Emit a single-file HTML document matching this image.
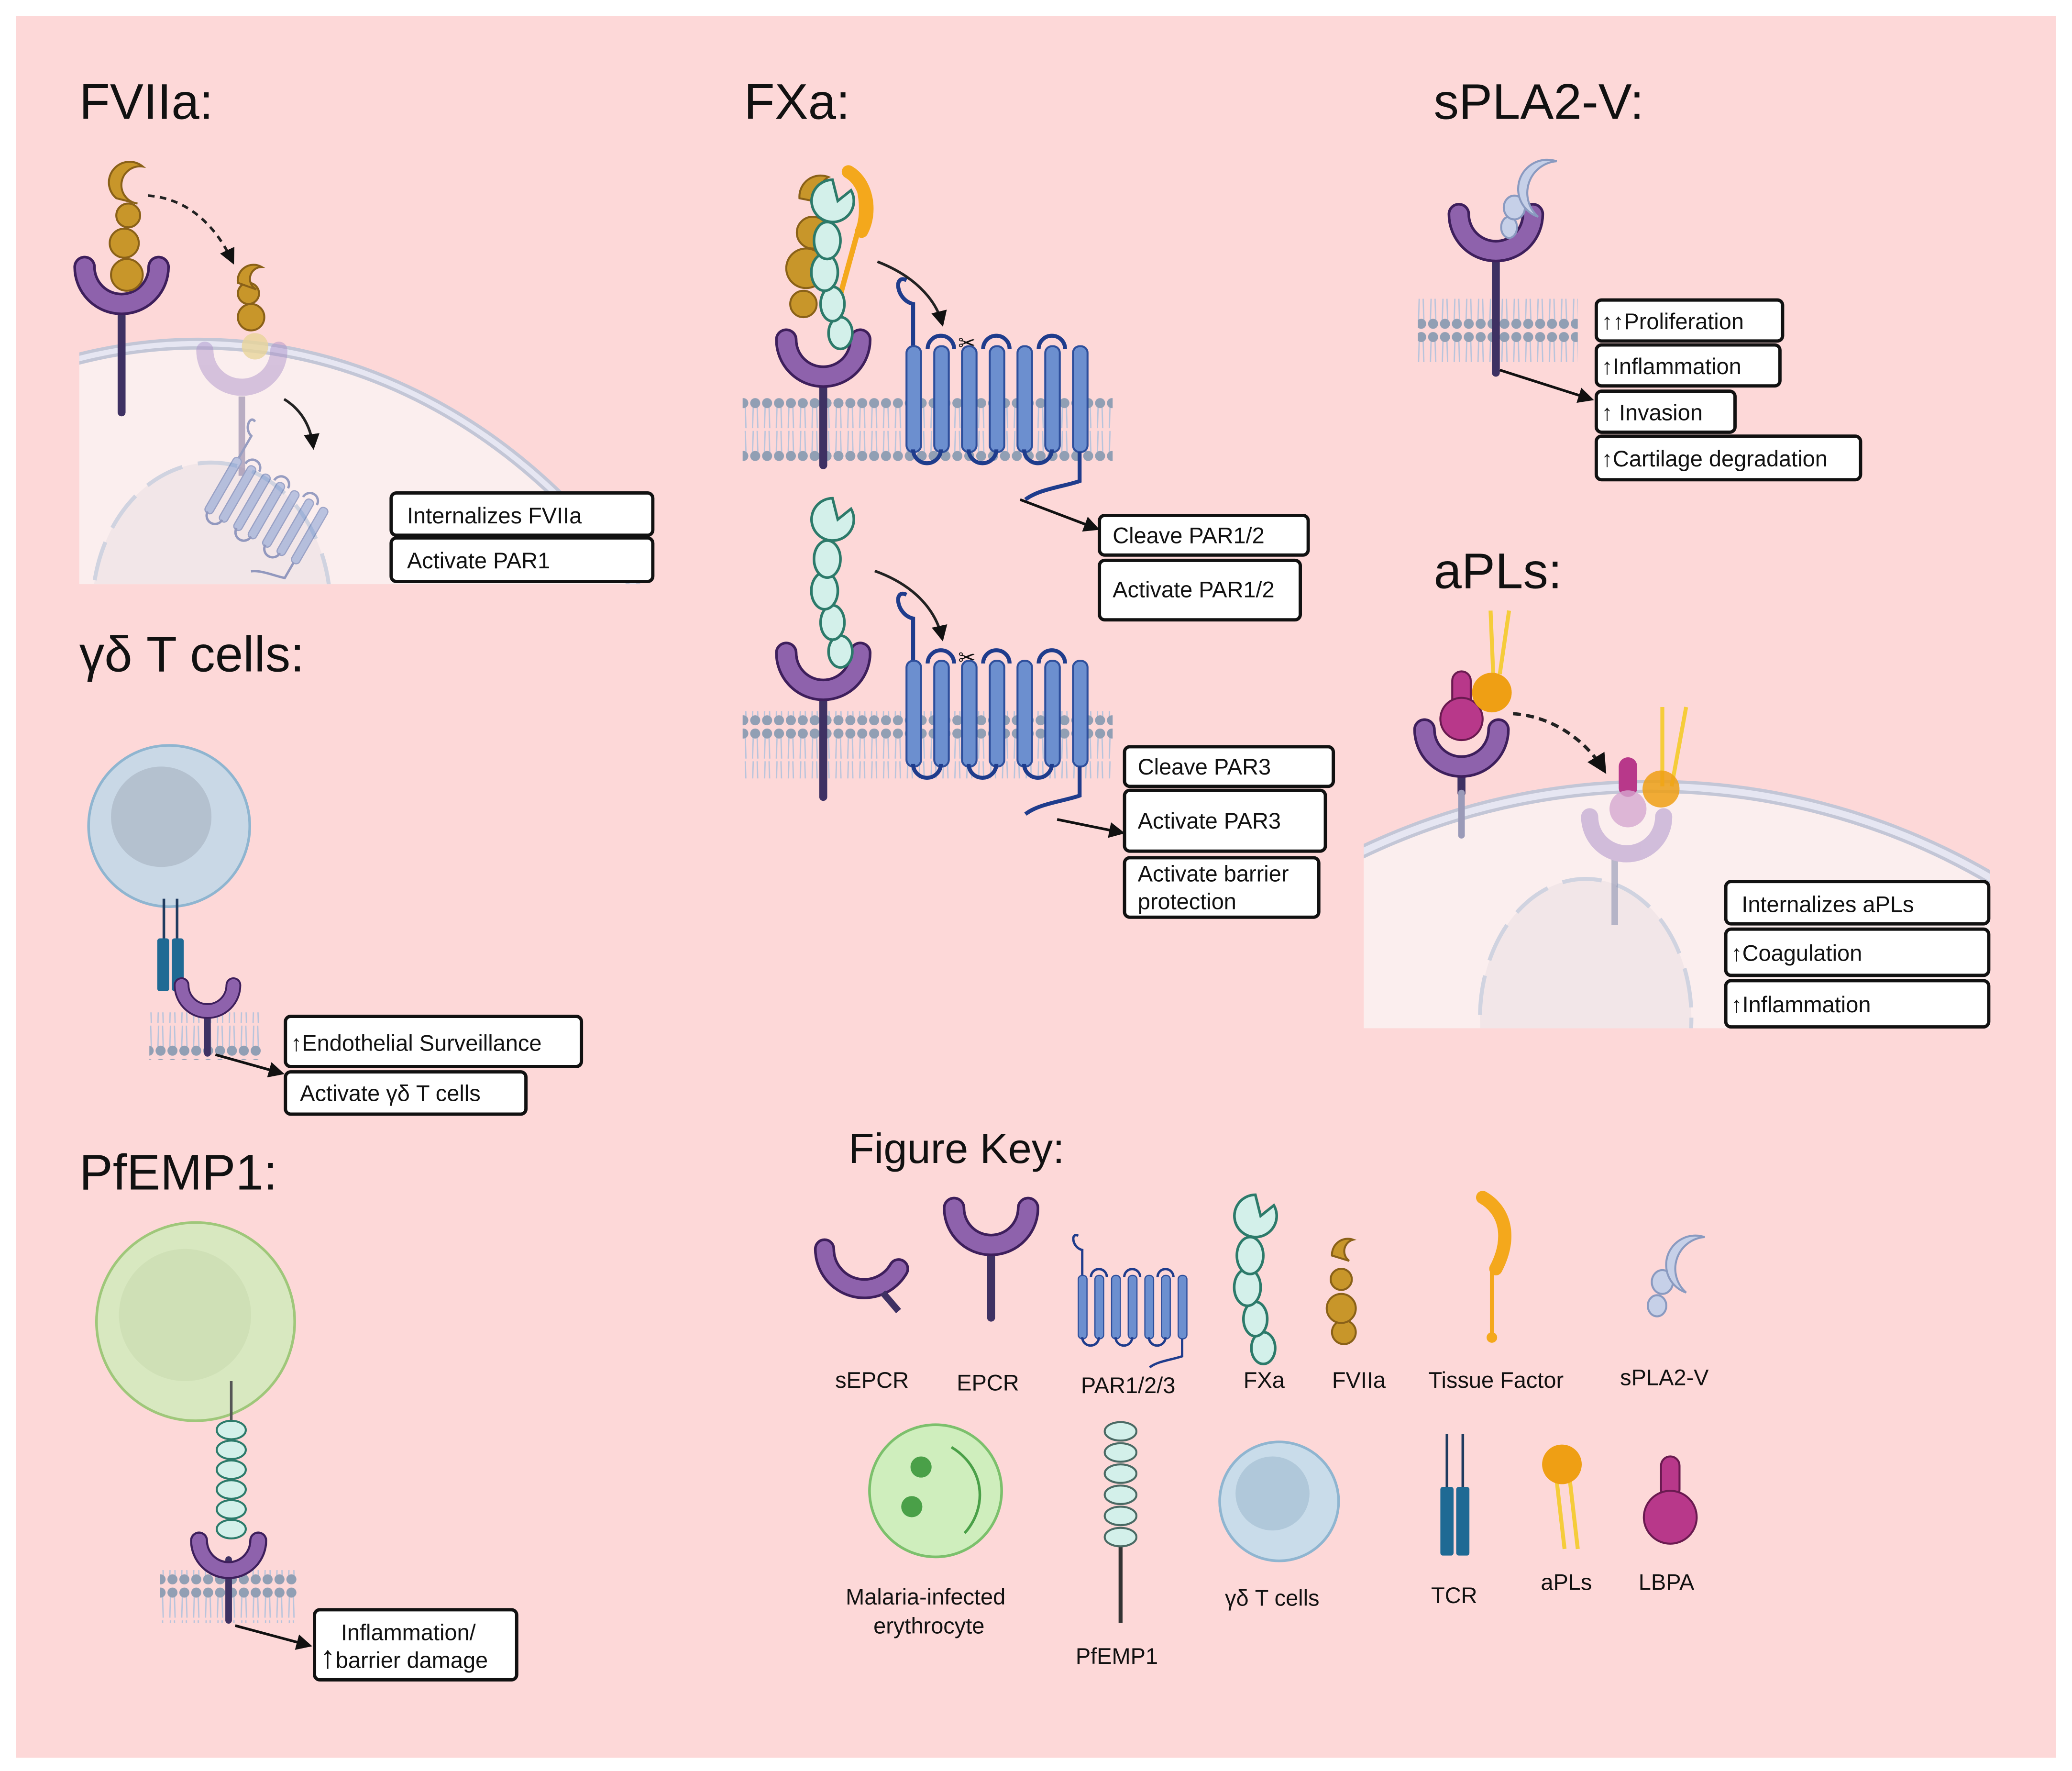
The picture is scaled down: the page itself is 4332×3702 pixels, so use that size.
<!DOCTYPE html>
<html><head><meta charset="utf-8"><style>
html,body{margin:0;padding:0;background:#fff;width:4332px;height:3702px;overflow:hidden}
svg{display:block}
text{font-family:"Liberation Sans",sans-serif;fill:#111}
</style></head><body>
<svg width="4332" height="3702" viewBox="0 0 1568 1340" xmlns="http://www.w3.org/2000/svg">
<defs>
<pattern id="mem" x="0" y="0" width="9" height="50" patternUnits="userSpaceOnUse">
<line x1="3" y1="8" x2="2.5" y2="24" stroke="#b8c4dc" stroke-width="1"/>
<line x1="6" y1="8" x2="6.5" y2="24" stroke="#b8c4dc" stroke-width="1"/>
<line x1="3" y1="26" x2="2.5" y2="42" stroke="#b8c4dc" stroke-width="1"/>
<line x1="6" y1="26" x2="6.5" y2="42" stroke="#b8c4dc" stroke-width="1"/>
<circle cx="4.5" cy="5" r="3.8" fill="#919fb4"/>
<circle cx="4.5" cy="45" r="3.8" fill="#919fb4"/>
</pattern>
<g id="epcr">
<path d="M-28,-38 A28,28 0 0 0 28,-38" fill="none" stroke="#3e1f5c" stroke-width="17" stroke-linecap="round"/>
<path d="M-28,-38 A28,28 0 0 0 28,-38" fill="none" stroke="#8e62ac" stroke-width="13" stroke-linecap="round"/>
</g>
<g id="par">
<path d="M0,-50 C-10,-55 -8,-35 5,-32 L5,0" fill="none" stroke="#1f3c8c" stroke-width="3"/>
<g fill="#6c8fcf" stroke="#2e4f9c" stroke-width="1.5">
<rect x="0" y="0" width="11" height="80" rx="5"/><rect x="21" y="0" width="11" height="80" rx="5"/>
<rect x="42" y="0" width="11" height="80" rx="5"/><rect x="63" y="0" width="11" height="80" rx="5"/>
<rect x="84" y="0" width="11" height="80" rx="5"/><rect x="105" y="0" width="11" height="80" rx="5"/>
<rect x="126" y="0" width="11" height="80" rx="5"/>
</g>
<g fill="none" stroke="#1f3c8c" stroke-width="3">
<path d="M16,2 a10,10 0 0 1 20,0 M58,2 a10,10 0 0 1 20,0 M100,2 a10,10 0 0 1 20,0"/>
<path d="M5,78 a10,10 0 0 0 21,0 M47,78 a10,10 0 0 0 21,0 M89,78 a10,10 0 0 0 21,0"/>
<path d="M131,80 L131,102 C120,106 100,108 90,116"/>
</g>
</g>
<g id="fxa">
<g fill="#d3f0ea" stroke="#2c7a6a" stroke-width="2">
<ellipse cx="6" cy="88" rx="9" ry="12"/><ellipse cx="0" cy="66" rx="9" ry="13"/>
<ellipse cx="-6" cy="42" rx="10" ry="14"/><ellipse cx="-4" cy="18" rx="10" ry="14"/>
<path d="M0,-28 a16,16 0 1 0 14,8 L4,-12 Z"/>
</g>
</g>
<marker id="ah" viewBox="0 0 10 10" refX="8" refY="5" markerWidth="6" markerHeight="6" orient="auto"><path d="M0,0 L10,5 L0,10 Z" fill="#111"/></marker>
</defs>

<rect x="0" y="0" width="1568" height="1340" fill="#fff"/>
<rect x="12" y="12" width="1544" height="1318" fill="#fdd8d8"/>

<!-- FVIIa -->
<text x="60" y="90" font-size="38">FVIIa:</text>
<clipPath id="c1"><rect x="60" y="200" width="440" height="242"/></clipPath>
<g clip-path="url(#c1)">
<ellipse cx="150" cy="770" rx="430" ry="510" fill="#fbeeee" stroke="#c3c6d6" stroke-width="9"/>
<ellipse cx="150" cy="770" rx="430" ry="510" fill="none" stroke="#e6e6f2" stroke-width="4"/>
<ellipse cx="160" cy="460" rx="90" ry="110" fill="#f2e6e8" stroke="#d0d3e0" stroke-width="3" stroke-dasharray="30,12"/>
</g>
<line x1="92" y1="228" x2="92" y2="312" stroke="#3e3163" stroke-width="6" stroke-linecap="round"/>
<use href="#epcr" x="92" y="240"/>
<g fill="#c8962a" stroke="#8a6118" stroke-width="1.5">
<circle cx="96" cy="208" r="12"/><circle cx="94" cy="184" r="11"/><circle cx="97" cy="163" r="9"/>
<path d="M88,150 a14,14 0 0 1 20,-24 a10,10 0 0 0 -4,28 Z"/>
</g>
<path d="M112,148 C140,150 162,168 176,198" fill="none" stroke="#222" stroke-width="2" stroke-dasharray="5,4" marker-end="url(#ah)"/>
<g opacity="0.45">
<line x1="183" y1="300" x2="183" y2="360" stroke="#6b5f8f" stroke-width="5"/>
<path d="M155,265 A28,28 0 0 0 211,265" fill="none" stroke="#a88cc8" stroke-width="13" stroke-linecap="round"/>
<g transform="translate(178,345) rotate(30) scale(0.6)"><use href="#par"/></g>
</g>
<g fill="#c8962a" stroke="#8a6118" stroke-width="1.5">
<circle cx="190" cy="240" r="10"/><circle cx="188" cy="222" r="8"/>
<path d="M180,214 a12,12 0 0 1 18,-12 a9,9 0 0 0 -4,17 Z"/>
</g>
<circle cx="193" cy="262" r="10" fill="#e8d59a" opacity="0.8"/>
<path d="M215,302 C228,310 235,322 237,338" fill="none" stroke="#222" stroke-width="2" marker-end="url(#ah)"/>
<g stroke="#111" stroke-width="2.5" fill="#fff">
<rect x="296" y="373" width="198" height="32" rx="4"/><rect x="296" y="407" width="198" height="33" rx="4"/>
</g>
<text x="308" y="396" font-size="17">Internalizes FVIIa</text>
<text x="308" y="430" font-size="17">Activate PAR1</text>

<!-- FXa -->
<text x="563" y="90" font-size="38">FXa:</text>
<rect x="562" y="300" width="280" height="51" fill="url(#mem)"/>
<use href="#par" x="686" y="262"/>
<line x1="623" y1="283" x2="623" y2="352" stroke="#3e3163" stroke-width="6" stroke-linecap="round"/>
<use href="#epcr" x="623" y="295"/>
<path d="M644,128 C652,140 654,160 650,172 L628,252" fill="none" stroke="#f4a81c" stroke-width="4"/>
<path d="M642,130 C656,138 660,160 652,175" fill="none" stroke="#f4a81c" stroke-width="10" stroke-linecap="round"/>
<g fill="#c8962a" stroke="#8a6118" stroke-width="1.5">
<circle cx="608" cy="230" r="10"/><circle cx="610" cy="203" r="15"/><circle cx="615" cy="176" r="12"/>
<path d="M605,150 a16,16 0 0 1 22,-16 a12,12 0 0 0 -2,20 Z"/>
</g>
<use href="#fxa" x="630" y="164"/>
<path d="M664,198 C690,208 708,225 713,245" fill="none" stroke="#222" stroke-width="2" marker-end="url(#ah)"/>
<text x="725" y="265" font-size="16" fill="#777">✂</text>
<path d="M772,378 L830,400" stroke="#111" stroke-width="2" marker-end="url(#ah)"/>
<g stroke="#111" stroke-width="2.5" fill="#fff">
<rect x="832" y="390" width="158" height="30" rx="4"/><rect x="832" y="424" width="152" height="45" rx="4"/>
</g>
<text x="842" y="411" font-size="17">Cleave PAR1/2</text>
<text x="842" y="452" font-size="17">Activate PAR1/2</text>

<rect x="562" y="538" width="280" height="51" fill="url(#mem)"/>
<use href="#par" x="686" y="500"/>
<line x1="623" y1="520" x2="623" y2="603" stroke="#3e3163" stroke-width="6" stroke-linecap="round"/>
<use href="#epcr" x="623" y="532"/>
<use href="#fxa" x="630" y="405"/>
<path d="M662,432 C690,442 708,460 713,483" fill="none" stroke="#222" stroke-width="2" marker-end="url(#ah)"/>
<text x="725" y="503" font-size="16" fill="#777">✂</text>
<path d="M800,620 L849,630" stroke="#111" stroke-width="2" marker-end="url(#ah)"/>
<g stroke="#111" stroke-width="2.5" fill="#fff">
<rect x="851" y="565" width="158" height="30" rx="4"/><rect x="851" y="598" width="152" height="46" rx="4"/>
<rect x="851" y="649" width="147" height="45" rx="4"/>
</g>
<text x="861" y="586" font-size="17">Cleave PAR3</text>
<text x="861" y="627" font-size="17">Activate PAR3</text>
<text x="861" y="667" font-size="17">Activate barrier</text>
<text x="861" y="688" font-size="17">protection</text>

<!-- sPLA2-V -->
<text x="1085" y="90" font-size="38">sPLA2-V:</text>
<rect x="1073" y="226" width="121" height="50" fill="url(#mem)"/>
<line x1="1132" y1="188" x2="1132" y2="282" stroke="#3e3163" stroke-width="6" stroke-linecap="round"/>
<use href="#epcr" x="1132" y="200"/>
<g fill="#c6d0e8" stroke="#8a9ac0" stroke-width="1.5">
<ellipse cx="1142" cy="172" rx="6" ry="8"/><ellipse cx="1146" cy="157" rx="8" ry="9"/>
<path d="M1178,122 a24,24 0 0 0 -14,42 a18,18 0 0 1 14,-42 Z"/>
</g>
<path d="M1135,280 L1204,302" stroke="#111" stroke-width="2" marker-end="url(#ah)"/>
<g stroke="#111" stroke-width="2.5" fill="#fff">
<rect x="1208" y="227" width="141" height="31" rx="4"/><rect x="1208" y="261" width="139" height="31" rx="4"/>
<rect x="1208" y="296" width="105" height="31" rx="4"/><rect x="1208" y="330" width="200" height="33" rx="4"/>
</g>
<text x="1212" y="249" font-size="17">↑↑Proliferation</text>
<text x="1212" y="283" font-size="17">↑Inflammation</text>
<text x="1212" y="318" font-size="17">↑ Invasion</text>
<text x="1212" y="353" font-size="17">↑Cartilage degradation</text>

<!-- aPLs -->
<text x="1085" y="445" font-size="38">aPLs:</text>
<clipPath id="c2"><rect x="1032" y="560" width="474" height="218"/></clipPath>
<g clip-path="url(#c2)">
<ellipse cx="1250" cy="1085" rx="500" ry="490" fill="#fbeeee" stroke="#c3c6d6" stroke-width="10"/>
<ellipse cx="1250" cy="1085" rx="500" ry="490" fill="none" stroke="#e6e6f2" stroke-width="5"/>
<ellipse cx="1200" cy="770" rx="80" ry="105" fill="#f2e6e8" stroke="#d0d3e0" stroke-width="3" stroke-dasharray="30,12"/>
</g>
<line x1="1106" y1="575" x2="1106" y2="600" stroke="#3e3163" stroke-width="6" stroke-linecap="round"/>
<line x1="1106" y1="600" x2="1106" y2="632" stroke="#9a9ab8" stroke-width="5" stroke-linecap="round"/>
<use href="#epcr" x="1106" y="590"/>
<path d="M1128,462 L1130,510 M1142,462 L1135,510" stroke="#f5cc3a" stroke-width="3" fill="none"/>
<g fill="#b8388a" stroke="#6a1a50" stroke-width="1.5">
<rect x="1099" y="508" width="14" height="32" rx="7"/><circle cx="1106" cy="544" r="16"/>
</g>
<circle cx="1129" cy="524" r="15" fill="#ef9f14"/>
<path d="M1145,540 C1175,542 1200,560 1214,583" fill="none" stroke="#222" stroke-width="2.5" stroke-dasharray="6,4" marker-end="url(#ah)"/>
<g opacity="0.5">
<line x1="1222" y1="640" x2="1222" y2="700" stroke="#7a84a8" stroke-width="5"/>
<path d="M1203,618 A28,28 0 0 0 1259,618" fill="none" stroke="#a88cc8" stroke-width="13" stroke-linecap="round"/>
</g>
<rect x="1225" y="573" width="14" height="30" rx="7" fill="#b8388a"/>
<circle cx="1232" cy="612" r="14" fill="#d6a8d0" opacity="0.8"/>
<path d="M1258,535 L1258,595 M1276,535 L1265,595" stroke="#f5cc3a" stroke-width="3" fill="none"/>
<circle cx="1257" cy="597" r="14" fill="#ef9f14" opacity="0.85"/>
<g stroke="#111" stroke-width="2.5" fill="#fff">
<rect x="1306" y="667" width="199" height="32" rx="4"/><rect x="1306" y="703" width="199" height="35" rx="4"/>
<rect x="1306" y="742" width="199" height="35" rx="4"/>
</g>
<text x="1318" y="690" font-size="17">Internalizes aPLs</text>
<text x="1310" y="727" font-size="17">↑Coagulation</text>
<text x="1310" y="766" font-size="17">↑Inflammation</text>

<!-- gd T cells -->
<text x="60" y="508" font-size="38">γδ T cells:</text>
<circle cx="128" cy="625" r="61" fill="#c9d8e6" stroke="#8fb5d0" stroke-width="2"/>
<circle cx="122" cy="618" r="38" fill="#b4c1cf"/>
<rect x="113" y="766" width="85" height="36" fill="url(#mem)"/>
<path d="M124,680 V745 M134,680 V745" stroke="#1f3b5f" stroke-width="2"/>
<rect x="119" y="710" width="9" height="40" fill="#1f6a94" rx="2"/><rect x="130" y="710" width="9" height="40" fill="#1f6a94" rx="2"/>
<line x1="157" y1="762" x2="157" y2="797" stroke="#3e3163" stroke-width="5" stroke-linecap="round"/>
<g transform="translate(157,772) scale(0.7)"><use href="#epcr"/></g>
<path d="M163,798 L213,812" stroke="#111" stroke-width="2" marker-end="url(#ah)"/>
<g stroke="#111" stroke-width="2.5" fill="#fff">
<rect x="216" y="769" width="224" height="38" rx="4"/><rect x="216" y="811" width="182" height="32" rx="4"/>
</g>
<text x="220" y="795" font-size="17">↑Endothelial Surveillance</text>
<text x="227" y="833" font-size="17">Activate γδ T cells</text>

<!-- PfEMP1 -->
<text x="60" y="900" font-size="38">PfEMP1:</text>
<circle cx="148" cy="1000" r="75" fill="#d8e8c0" stroke="#9fc77a" stroke-width="2"/>
<circle cx="140" cy="995" r="50" fill="#cfe0b6"/>
<rect x="121" y="1188" width="104" height="40" fill="url(#mem)"/>
<line x1="175" y1="1045" x2="175" y2="1080" stroke="#555" stroke-width="2"/>
<line x1="173" y1="1180" x2="173" y2="1226" stroke="#3e3163" stroke-width="5" stroke-linecap="round"/>
<g transform="translate(173,1196) scale(0.8)"><use href="#epcr"/></g>
<g fill="#d3f0ea" stroke="#2c7a6a" stroke-width="1.5">
<ellipse cx="175" cy="1082" rx="11" ry="7"/><ellipse cx="175" cy="1097" rx="11" ry="7"/><ellipse cx="175" cy="1112" rx="11" ry="7"/>
<ellipse cx="175" cy="1127" rx="11" ry="7"/><ellipse cx="175" cy="1142" rx="11" ry="7"/><ellipse cx="175" cy="1157" rx="11" ry="7"/>
</g>
<path d="M178,1230 L234,1245" stroke="#111" stroke-width="2" marker-end="url(#ah)"/>
<rect x="238" y="1218" width="153" height="53" rx="4" stroke="#111" stroke-width="2.5" fill="#fff"/>
<text x="242" y="1262" font-size="24">↑</text>
<text x="258" y="1241" font-size="17">Inflammation/</text>
<text x="254" y="1262" font-size="17">barrier damage</text>

<!-- Figure key -->
<text x="642" y="880" font-size="32">Figure Key:</text>
<path d="M624,945 A30,30 0 0 0 680,960" fill="none" stroke="#3e1f5c" stroke-width="16" stroke-linecap="round"/>
<path d="M624,945 A30,30 0 0 0 680,960" fill="none" stroke="#8e62ac" stroke-width="12" stroke-linecap="round"/>
<line x1="668" y1="978" x2="680" y2="992" stroke="#3e3163" stroke-width="5"/>
<line x1="750" y1="940" x2="750" y2="997" stroke="#3e3163" stroke-width="6" stroke-linecap="round"/>
<use href="#epcr" x="750" y="952"/>
<g transform="translate(816,965) scale(0.6)"><use href="#par"/></g>
<use href="#fxa" x="950" y="932"/>
<g fill="#c8962a" stroke="#8a6118" stroke-width="1.5">
<circle cx="1017" cy="1008" r="9"/><circle cx="1015" cy="990" r="11"/><circle cx="1015" cy="968" r="8"/>
<path d="M1008,950 a12,12 0 0 1 16,-12 a9,9 0 0 0 -3,16 Z"/>
</g>
<path d="M1122,906 C1138,915 1145,935 1132,960" fill="none" stroke="#f4a81c" stroke-width="10" stroke-linecap="round"/>
<line x1="1129" y1="960" x2="1129" y2="1010" stroke="#f4a81c" stroke-width="3"/><circle cx="1129" cy="1012" r="4" fill="#f4a81c"/>
<g fill="#c6d0e8" stroke="#8a9ac0" stroke-width="1.5">
<ellipse cx="1254" cy="988" rx="7" ry="8"/><ellipse cx="1258" cy="970" rx="8" ry="9"/>
<path d="M1290,936 a24,24 0 0 0 -14,42 a18,18 0 0 1 14,-42 Z"/>
</g>
<g font-size="17">
<text x="632" y="1050">sEPCR</text><text x="724" y="1052">EPCR</text><text x="818" y="1054">PAR1/2/3</text>
<text x="941" y="1050">FXa</text><text x="1008" y="1050">FVIIa</text><text x="1081" y="1050">Tissue Factor</text>
<text x="1226" y="1048">sPLA2-V</text>
</g>
<circle cx="708" cy="1128" r="50" fill="#cfeebd" stroke="#7cc06c" stroke-width="2"/>
<circle cx="697" cy="1110" r="8" fill="#4aa048"/><circle cx="690" cy="1140" r="8" fill="#4aa048"/>
<path d="M720,1095 C745,1110 748,1140 730,1160" fill="none" stroke="#4aa048" stroke-width="2"/>
<line x1="848" y1="1160" x2="848" y2="1228" stroke="#333" stroke-width="3"/>
<g fill="#d3f0ea" stroke="#4a6a64" stroke-width="1.5">
<ellipse cx="848" cy="1083" rx="12" ry="7"/><ellipse cx="848" cy="1099" rx="12" ry="7"/><ellipse cx="848" cy="1115" rx="12" ry="7"/>
<ellipse cx="848" cy="1131" rx="12" ry="7"/><ellipse cx="848" cy="1147" rx="12" ry="7"/><ellipse cx="848" cy="1163" rx="12" ry="7"/>
</g>
<circle cx="968" cy="1136" r="45" fill="#c9dcea" stroke="#8fb5d0" stroke-width="2"/>
<circle cx="963" cy="1130" r="28" fill="#b0c8da"/>
<path d="M1095,1085 V1125 M1107,1085 V1125" stroke="#1f3b5f" stroke-width="2"/>
<rect x="1090" y="1125" width="10" height="52" fill="#1f6a94" rx="2"/><rect x="1102" y="1125" width="10" height="52" fill="#1f6a94" rx="2"/>
<path d="M1178,1120 L1184,1172 M1188,1120 L1194,1172" stroke="#f5cc3a" stroke-width="3"/>
<circle cx="1182" cy="1108" r="15" fill="#ef9f14"/>
<rect x="1257" y="1102" width="14" height="32" rx="7" fill="#b8388a" stroke="#6a1a50" stroke-width="1.5"/>
<circle cx="1264" cy="1148" r="20" fill="#b8388a" stroke="#6a1a50" stroke-width="1.5"/>
<g font-size="17">
<text x="640" y="1214">Malaria-infected</text><text x="661" y="1236">erythrocyte</text>
<text x="814" y="1259">PfEMP1</text><text x="927" y="1215">γδ T cells</text>
<text x="1083" y="1213">TCR</text><text x="1166" y="1203">aPLs</text><text x="1240" y="1203">LBPA</text>
</g>
</svg>
</body></html>
